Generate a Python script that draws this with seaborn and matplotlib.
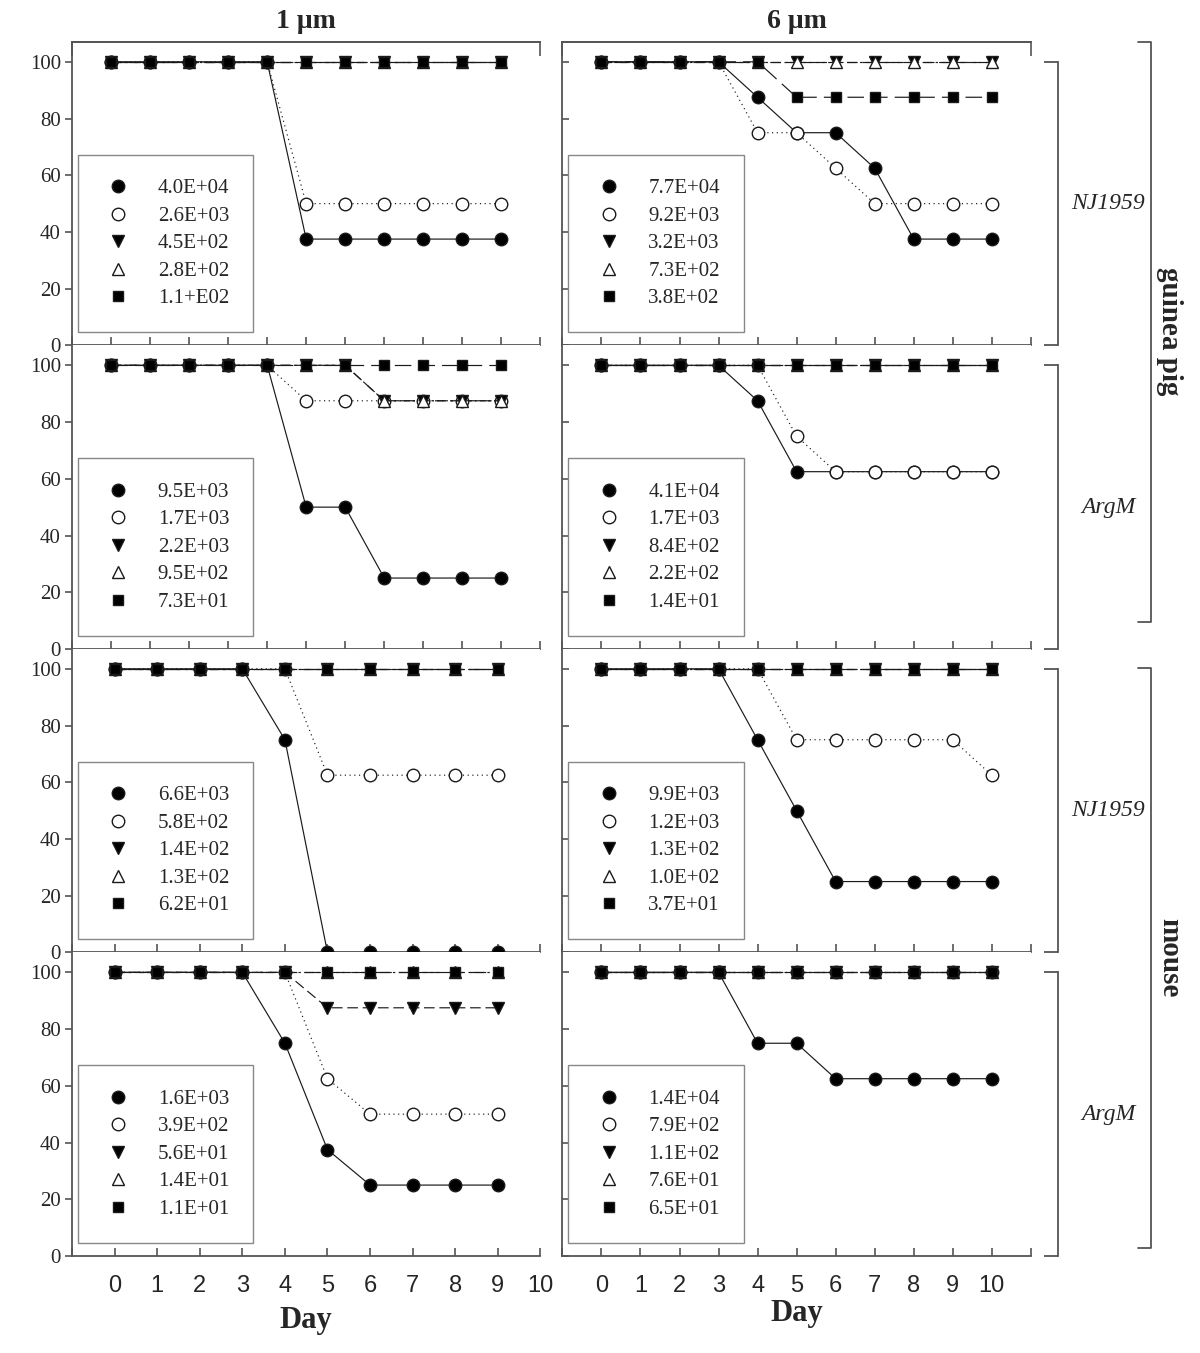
import matplotlib
matplotlib.use("Agg")
import matplotlib.pyplot as plt
from matplotlib.lines import Line2D
import seaborn as sns

# ---- data (percent survival) ----
days_11 = [0, 1, 2, 3, 4, 5, 6, 7, 8, 9, 10]
days_10 = [0, 1, 2, 3, 4, 5, 6, 7, 8, 9]

# guinea pig, NJ1959
gp_nj_1um = [
    [100, 100, 100, 100, 100, 37.5, 37.5, 37.5, 37.5, 37.5, 37.5],
    [100, 100, 100, 100, 100, 50, 50, 50, 50, 50, 50],
    [100, 100, 100, 100, 100, 100, 100, 100, 100, 100, 100],
    [100, 100, 100, 100, 100, 100, 100, 100, 100, 100, 100],
    [100, 100, 100, 100, 100, 100, 100, 100, 100, 100, 100],
]
gp_nj_6um = [
    [100, 100, 100, 100, 87.5, 75, 75, 62.5, 37.5, 37.5, 37.5],
    [100, 100, 100, 100, 75, 75, 62.5, 50, 50, 50, 50],
    [100, 100, 100, 100, 100, 100, 100, 100, 100, 100, 100],
    [100, 100, 100, 100, 100, 100, 100, 100, 100, 100, 100],
    [100, 100, 100, 100, 100, 87.5, 87.5, 87.5, 87.5, 87.5, 87.5],
]
# guinea pig, ArgM
gp_argm_1um = [
    [100, 100, 100, 100, 100, 50, 50, 25, 25, 25, 25],
    [100, 100, 100, 100, 100, 87.5, 87.5, 87.5, 87.5, 87.5, 87.5],
    [100, 100, 100, 100, 100, 100, 100, 87.5, 87.5, 87.5, 87.5],
    [100, 100, 100, 100, 100, 100, 100, 87.5, 87.5, 87.5, 87.5],
    [100, 100, 100, 100, 100, 100, 100, 100, 100, 100, 100],
]
gp_argm_6um = [
    [100, 100, 100, 100, 87.5, 62.5, 62.5, 62.5, 62.5, 62.5, 62.5],
    [100, 100, 100, 100, 100, 75, 62.5, 62.5, 62.5, 62.5, 62.5],
    [100, 100, 100, 100, 100, 100, 100, 100, 100, 100, 100],
    [100, 100, 100, 100, 100, 100, 100, 100, 100, 100, 100],
    [100, 100, 100, 100, 100, 100, 100, 100, 100, 100, 100],
]
# mouse, NJ1959
ms_nj_1um = [
    [100, 100, 100, 100, 75, 0, 0, 0, 0, 0],
    [100, 100, 100, 100, 100, 62.5, 62.5, 62.5, 62.5, 62.5],
    [100, 100, 100, 100, 100, 100, 100, 100, 100, 100],
    [100, 100, 100, 100, 100, 100, 100, 100, 100, 100],
    [100, 100, 100, 100, 100, 100, 100, 100, 100, 100],
]
ms_nj_6um = [
    [100, 100, 100, 100, 75, 50, 25, 25, 25, 25, 25],
    [100, 100, 100, 100, 100, 75, 75, 75, 75, 75, 62.5],
    [100, 100, 100, 100, 100, 100, 100, 100, 100, 100, 100],
    [100, 100, 100, 100, 100, 100, 100, 100, 100, 100, 100],
    [100, 100, 100, 100, 100, 100, 100, 100, 100, 100, 100],
]
# mouse, ArgM
ms_argm_1um = [
    [100, 100, 100, 100, 75, 37.5, 25, 25, 25, 25],
    [100, 100, 100, 100, 100, 62.5, 50, 50, 50, 50],
    [100, 100, 100, 100, 100, 87.5, 87.5, 87.5, 87.5, 87.5],
    [100, 100, 100, 100, 100, 100, 100, 100, 100, 100],
    [100, 100, 100, 100, 100, 100, 100, 100, 100, 100],
]
ms_argm_6um = [
    [100, 100, 100, 100, 75, 75, 62.5, 62.5, 62.5, 62.5, 62.5],
    [100, 100, 100, 100, 100, 100, 100, 100, 100, 100, 100],
    [100, 100, 100, 100, 100, 100, 100, 100, 100, 100, 100],
    [100, 100, 100, 100, 100, 100, 100, 100, 100, 100, 100],
    [100, 100, 100, 100, 100, 100, 100, 100, 100, 100, 100],
]

gp_nj_1um_labels = ["4.0E+04", "2.6E+03", "4.5E+02", "2.8E+02", "1.1+E02"]
gp_nj_6um_labels = ["7.7E+04", "9.2E+03", "3.2E+03", "7.3E+02", "3.8E+02"]
gp_argm_1um_labels = ["9.5E+03", "1.7E+03", "2.2E+03", "9.5E+02", "7.3E+01"]
gp_argm_6um_labels = ["4.1E+04", "1.7E+03", "8.4E+02", "2.2E+02", "1.4E+01"]
ms_nj_1um_labels = ["6.6E+03", "5.8E+02", "1.4E+02", "1.3E+02", "6.2E+01"]
ms_nj_6um_labels = ["9.9E+03", "1.2E+03", "1.3E+02", "1.0E+02", "3.7E+01"]
ms_argm_1um_labels = ["1.6E+03", "3.9E+02", "5.6E+01", "1.4E+01", "1.1E+01"]
ms_argm_6um_labels = ["1.4E+04", "7.9E+02", "1.1E+02", "7.6E+01", "6.5E+01"]

column_titles = ["1 \u03bcm", "6 \u03bcm"]
strain_labels = ["NJ1959", "ArgM", "NJ1959", "ArgM"]
host_labels = ["guinea pig", "mouse"]
y_ticks = [0, 20, 40, 60, 80, 100]

# ---- styles ----
markers = ["o", "o", "v", "^", "s"]
face_colors = ["black", "white", "black", "white", "black"]
marker_sizes = [9, 9, 8.5, 8.5, 7.5]
line_styles = ["-", (0, (1, 3)), (0, (9, 4)), (0, (8, 3, 2, 3)), (0, (14, 6))]
ink = "#1a1a1a"
spine_col = "#555555"

sns.set_theme(style="ticks")
plt.rcParams["font.family"] = ["Liberation Serif", "DejaVu Serif"]

fig, axes = plt.subplots(4, 2, figsize=(12, 13.53), dpi=100)
fig.patch.set_facecolor("white")
fig.subplots_adjust(left=0.06, right=0.859, top=0.969, bottom=0.0717,
                    wspace=0.047, hspace=0)

panels = [
    (0, 0, days_11, gp_nj_1um, gp_nj_1um_labels),
    (0, 1, days_11, gp_nj_6um, gp_nj_6um_labels),
    (1, 0, days_11, gp_argm_1um, gp_argm_1um_labels),
    (1, 1, days_11, gp_argm_6um, gp_argm_6um_labels),
    (2, 0, days_10, ms_nj_1um, ms_nj_1um_labels),
    (2, 1, days_11, ms_nj_6um, ms_nj_6um_labels),
    (3, 0, days_10, ms_argm_1um, ms_argm_1um_labels),
    (3, 1, days_11, ms_argm_6um, ms_argm_6um_labels),
]

for row, col, days, series, labels in panels:
    ax = axes[row, col]
    ax.set_facecolor("white")
    for i, vals in enumerate(series):
        sns.lineplot(
            x=days, y=vals, ax=ax, errorbar=None, legend=False,
            color=ink, linewidth=0.85, linestyle=line_styles[i],
            marker=markers[i], markersize=marker_sizes[i],
            markerfacecolor=face_colors[i], markeredgecolor=ink,
            markeredgewidth=1.0, clip_on=False, zorder=3 + i,
        )

    # axis limits / ticks
    xmax = 11 if (col == 1 or row < 2) else 10
    ax.set_xlim(-1, xmax)
    ax.set_ylim(0, 107)
    ax.set_xticks(list(range(-1, xmax + 1)))
    ax.set_yticks(y_ticks)
    ax.set_xlabel("")
    ax.set_ylabel("")

    ax.spines["right"].set_visible(False)
    ax.spines["top"].set_visible(row == 0)
    for side in ["left", "bottom", "top"]:
        ax.spines[side].set_color(spine_col)
        ax.spines[side].set_linewidth(1.3)

    ax.tick_params(axis="x", direction="in", length=6, width=1.2,
                   color=spine_col)
    if col == 0:
        ax.tick_params(axis="y", direction="out", length=5, width=1.2,
                       color=spine_col, labelsize=15, pad=3)
    else:
        ax.tick_params(axis="y", direction="in", length=5, width=1.2,
                       color=spine_col, labelleft=False)

    if row == 3:
        ax.set_xticklabels(["" if t == -1 or t == 11 else str(t)
                            for t in range(-1, xmax + 1)])
        for lab in ax.get_xticklabels():
            lab.set_fontfamily("Liberation Sans")
            lab.set_fontsize(17)
        ax.tick_params(axis="x", pad=14)
        ax.set_xlabel("Day", fontsize=22, fontweight="bold",
                      labelpad=6 if col == 0 else 1)
    else:
        ax.tick_params(axis="x", labelbottom=False)

    if row == 0:
        ax.set_title(column_titles[col], fontsize=20, fontweight="bold",
                     pad=10)
        sec = ax.secondary_xaxis("top")
        sec.set_xticks([-1, xmax])
        sec.tick_params(direction="in", length=10, width=1.2,
                        color=spine_col, labeltop=False)
        sec.spines["top"].set_color(spine_col)
        sec.spines["top"].set_linewidth(1.3)

    # legend: markers only
    handles = [
        Line2D([], [], linestyle="none", marker=markers[i],
               markersize=marker_sizes[i], markerfacecolor=face_colors[i],
               markeredgecolor=ink, markeredgewidth=1.0)
        for i in range(len(labels))
    ]
    leg = ax.legend(handles, labels, loc="lower left",
                    bbox_to_anchor=(0.012, 0.043), frameon=True,
                    fancybox=False, framealpha=1, edgecolor="#888888",
                    fontsize=15, borderpad=1.15, labelspacing=0.38,
                    handlelength=1.6, handletextpad=1.1,
                    borderaxespad=0)
    leg.get_frame().set_linewidth(1.0)

    # right-hand bracket with strain name
    if col == 1:
        tw = ax.twinx()
        tw.set_ylim(0, 107)
        for side in ["left", "top", "bottom"]:
            tw.spines[side].set_visible(False)
        tw.spines["right"].set_position(("outward", 19.5))
        tw.spines["right"].set_bounds(0, 100)
        tw.spines["right"].set_color(spine_col)
        tw.spines["right"].set_linewidth(1.3)
        tw.set_yticks([0, 100])
        tw.tick_params(axis="y", direction="in", length=10, width=1.3,
                       color=spine_col, labelright=False)
        tw.grid(False)
        ax.text(1.165, 50, strain_labels[row], transform=ax.get_yaxis_transform(),
                ha="center", va="center", fontsize=17, fontstyle="italic")

# outer brackets for host species
bracket_x = 0.959
arm_x = 0.948
for y_top, y_bot, name in [(0.969, 0.540, host_labels[0]),
                           (0.506, 0.0776, host_labels[1])]:
    fig.add_artist(Line2D([arm_x, bracket_x, bracket_x, arm_x],
                          [y_top, y_top, y_bot, y_bot],
                          color=spine_col, linewidth=1.3))
    fig.text(0.975, (y_top + y_bot) / 2 + 0.0005, name, rotation=270,
             ha="center", va="center", fontsize=21, fontweight="bold")

plt.savefig("out.png", dpi=100)
